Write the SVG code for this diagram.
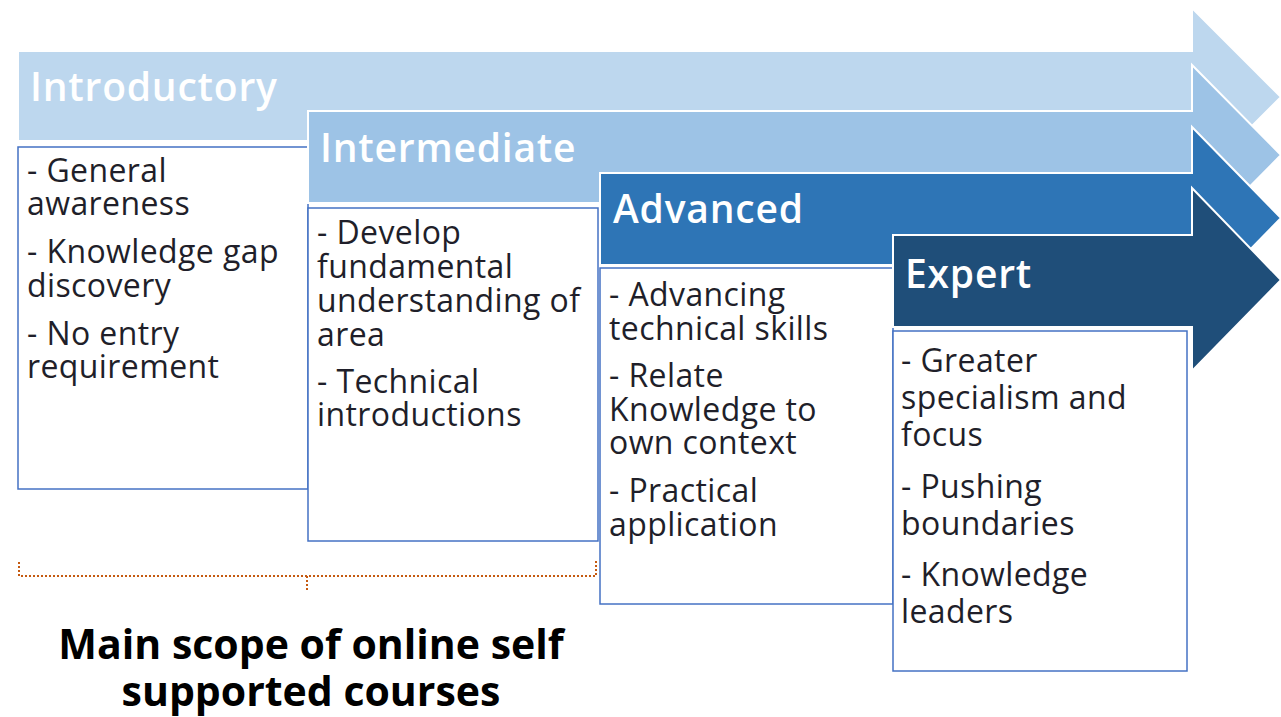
<svg xmlns="http://www.w3.org/2000/svg" width="1281" height="717" viewBox="0 0 1281 717">
<style>
.arr{stroke:#fff;stroke-width:2}
.box{fill:#fff;stroke:#4472C4;stroke-width:1.5}
.title{font-family:"Open Sans",Lato,sans-serif;font-weight:600;font-size:39px;letter-spacing:0.8px;fill:#fff}
.body{font-family:"Open Sans",Lato,sans-serif;font-size:32px;letter-spacing:0.4px;fill:#1f1f2a}
.cap{font-family:"Open Sans",Lato,sans-serif;font-weight:bold;font-size:41px;fill:#000}
</style>
<rect width="1281" height="717" fill="#fff"/>
<g id="introductory">
<path class="arr" fill="#BDD7EE" d="M18,51 H1192 V8 L1281,97 L1192,186 V141 H18 Z"/>
<rect class="box" x="18" y="147" width="290" height="342"/>
<text class="title" x="30" y="101">Introductory</text>
<text class="body"><tspan x="27" y="182">- General</tspan><tspan x="27" y="215">awareness</tspan><tspan x="27" y="263">- Knowledge gap</tspan><tspan x="27" y="297">discovery</tspan><tspan x="27" y="345">- No entry</tspan><tspan x="27" y="378">requirement</tspan></text>
</g>
<g id="intermediate">
<path class="arr" fill="#9DC3E6" d="M308,111 H1192 V65 L1281,155 L1192,245 V203 H308 Z"/>
<rect class="box" x="308" y="208" width="290" height="333"/>
<text class="title" x="320" y="162">Intermediate</text>
<text class="body"><tspan x="317" y="244">- Develop</tspan><tspan x="317" y="278">fundamental</tspan><tspan x="317" y="312">understanding of</tspan><tspan x="317" y="346">area</tspan><tspan x="317" y="393">- Technical</tspan><tspan x="317" y="426">introductions</tspan></text>
</g>
<g id="advanced">
<path class="arr" fill="#2E75B6" d="M600,173 H1192 V127 L1281,218 L1192,309 V265 H600 Z"/>
<rect class="box" x="600" y="268" width="293" height="336"/>
<text class="title" x="613" y="223">Advanced</text>
<text class="body"><tspan x="609" y="306">- Advancing</tspan><tspan x="609" y="340">technical skills</tspan><tspan x="609" y="387">- Relate</tspan><tspan x="609" y="421">Knowledge to</tspan><tspan x="609" y="454">own context</tspan><tspan x="609" y="502">- Practical</tspan><tspan x="609" y="536">application</tspan></text>
</g>
<g id="expert">
<path class="arr" fill="#1F4E79" d="M893,235 H1192 V188 L1281,280 L1192,371 V327 H893 Z"/>
<rect class="box" x="893" y="331" width="294" height="340"/>
<text class="title" x="905" y="288">Expert</text>
<text class="body"><tspan x="901" y="372">- Greater</tspan><tspan x="901" y="409">specialism and</tspan><tspan x="901" y="446">focus</tspan><tspan x="901" y="498">- Pushing</tspan><tspan x="901" y="535">boundaries</tspan><tspan x="901" y="586">- Knowledge</tspan><tspan x="901" y="623">leaders</tspan></text>
</g>
<g id="connectors">
<path d="M19,562 V576 H596 V561 M307,576 V591" fill="none" stroke="#C55A11" stroke-width="2" stroke-dasharray="2,2"/>
</g>
<g id="caption">
<text class="cap" text-anchor="middle" x="311" y="659">Main scope of online self</text>
<text class="cap" text-anchor="middle" x="311" y="706">supported courses</text>
</g>
</svg>
